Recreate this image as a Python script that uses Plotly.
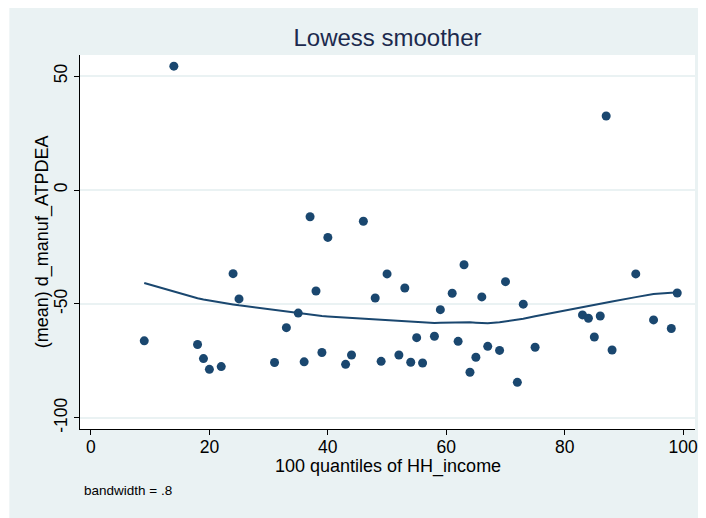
import plotly.graph_objects as go

# Data
quantile = [9, 14, 18, 19, 20, 22, 24, 25, 31, 33, 35, 36, 37, 38, 39, 40, 43, 44, 46, 48,
            49, 50, 52, 53, 54, 55, 56, 58, 59, 61, 62, 63, 64, 65, 66, 67, 69, 70, 72, 73,
            75, 83, 84, 85, 86, 87, 88, 92, 95, 98, 99]
mean_val = [-66.2, 54.4, -67.8, -74.0, -78.7, -77.5, -36.7, -47.8, -75.7, -60.4, -54.0, -75.4,
            -11.7, -44.3, -71.3, -20.8, -76.5, -72.4, -13.7, -47.4, -75.2, -36.8, -72.4, -43.0,
            -75.6, -64.8, -75.9, -64.2, -52.5, -45.3, -66.4, -32.8, -80.0, -73.4, -46.9, -68.6,
            -70.4, -40.2, -84.4, -50.1, -69.0, -54.8, -56.3, -64.5, -55.3, 32.5, -70.2, -36.8,
            -57.0, -60.8, -45.2]
lowess_val = [-40.8, -44.7, -47.5, -48.0, -48.5, -49.4, -50.2, -50.6, -52.7, -53.4, -54.2, -54.5,
              -54.8, -55.0, -55.3, -55.5, -56.0, -56.2, -56.6, -56.9, -57.0, -57.1, -57.4, -57.6,
              -57.8, -58.0, -58.2, -58.4, -58.3, -58.1, -58.0, -58.0, -58.0, -58.2, -58.4, -58.5,
              -58.0, -57.6, -57.0, -56.5, -55.4, -51.2, -50.8, -50.3, -49.9, -49.4, -48.9, -47.0,
              -45.6, -45.1, -45.0]

x_ticks = [0, 20, 40, 60, 80, 100]
x_ticklabels = ["0", "20", "40", "60", "80", "100"]
y_ticks = [-100, -50, 0, 50]
y_ticklabels = ["-100", "-50", "0", "50"]

NAVY = "#1A476F"
BG = "#EAF2F3"
FONT = "Liberation Sans, Arial, sans-serif"

# page body has an 8px margin; design in page pixels then shift
OFF = 8
PAGE_W, PAGE_H = 706, 518
W, H = PAGE_W - OFF, PAGE_H - OFF
PL, PR, PT, PB = 80, 698, 55, 429          # plot area in page pixels
L, R, T, B = PL - OFF, W - (PR - OFF), PT - OFF, H - (PB - OFF)
PW, PH = W - L - R, H - T - B


def px2x(px):  # page px -> paper x
    return (px - OFF - L) / PW


def py2y(py):  # page px -> paper y
    return (H - B - (py - OFF)) / PH


fig = go.Figure()
fig.add_trace(go.Scatter(x=quantile, y=mean_val, mode="markers",
                         marker=dict(color=NAVY, size=9, line=dict(width=0)),
                         showlegend=False, hoverinfo="x+y"))
fig.add_trace(go.Scatter(x=quantile, y=lowess_val, mode="lines",
                         line=dict(color=NAVY, width=2),
                         showlegend=False, hoverinfo="x+y"))

fig.update_layout(
    width=W, height=H,
    margin=dict(l=L, r=R, t=T, b=B, pad=0),
    paper_bgcolor=BG,
    plot_bgcolor="white",
    font=dict(family=FONT, color="black"),
    title=dict(text="Lowess smoother", x=0.5, xref="paper", xanchor="center",
               y=1 - (38 - OFF) / H, yref="container", yanchor="middle",
               font=dict(size=24, color="#1c2a4e", family=FONT)),
    xaxis=dict(range=[-1.85, 102.0], tickmode="array", tickvals=x_ticks, ticktext=x_ticklabels,
               showgrid=False, zeroline=False, showline=True, linecolor="black", linewidth=1,
               ticks="outside", ticklen=5, tickcolor="black", tickwidth=1,
               ticklabelstandoff=-3,
               tickfont=dict(size=17.5, family=FONT, color="black")),
    yaxis=dict(range=[-104.9, 59.3], tickmode="array", tickvals=y_ticks, ticktext=y_ticklabels,
               showgrid=True, gridcolor=BG, gridwidth=1.5, zeroline=False,
               showline=True, linecolor="black", linewidth=1,
               ticks="outside", ticklen=5, tickcolor="black", tickwidth=1, tickangle=-90,
               tickfont=dict(size=17.5, family=FONT, color="black")),
    shapes=[
        dict(type="rect", xref="paper", yref="paper", x0=px2x(0), x1=px2x(9),
             y0=py2y(PAGE_H + 5), y1=py2y(0), fillcolor="white", line=dict(width=0),
             layer="below"),
    ],
    annotations=[
        dict(text="100 quantiles of HH_income", xref="paper", yref="paper",
             x=0.5, y=py2y(466), xanchor="center", yanchor="middle", showarrow=False,
             font=dict(size=18, family=FONT, color="black")),
        dict(text="(mean) d_manuf_ATPDEA", xref="paper", yref="paper",
             x=px2x(42), y=0.5, xanchor="center", yanchor="middle", textangle=-90,
             showarrow=False, font=dict(size=18, family=FONT, color="black")),
        dict(text="bandwidth = .8", xref="paper", yref="paper",
             x=px2x(82), y=py2y(490), xanchor="left", yanchor="middle", showarrow=False,
             font=dict(size=13.5, family=FONT, color="black")),
    ],
)

fig.write_html("out.html")
